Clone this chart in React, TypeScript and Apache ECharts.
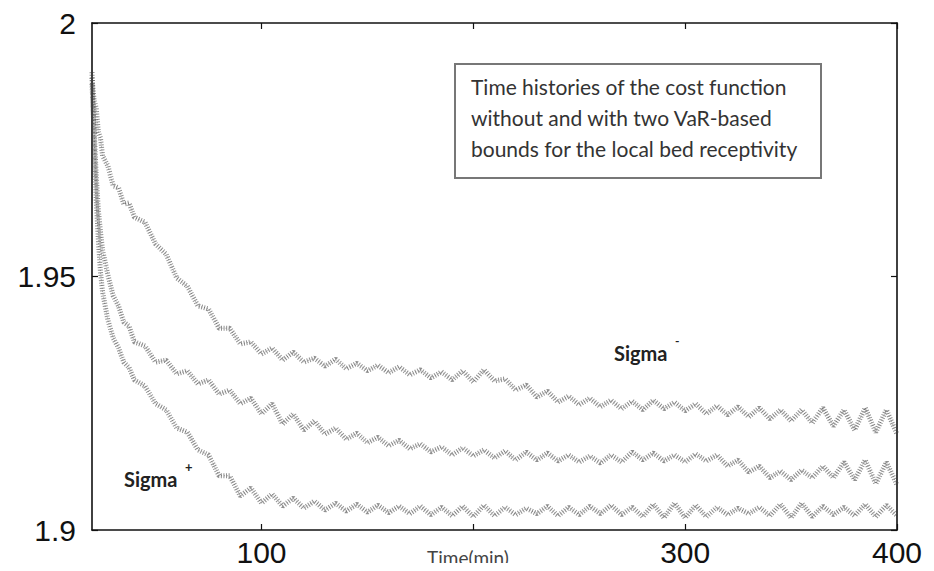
import React, { useEffect, useRef } from "react";
import * as echarts from "echarts";

// time (min)
const T = [20, 21, 22, 23, 24, 25, 27.5, 30, 32.5, 35, 37.5, 40, 45, 50, 55, 60, 65, 70, 75, 80, 85, 90, 95, 100, 105, 110, 115, 120, 125, 130, 135, 140, 145, 150, 155, 160, 165, 170, 175, 180, 185, 190, 195, 200, 205, 210, 215, 220, 225, 230, 235, 240, 245, 250, 255, 260, 265, 270, 275, 280, 285, 290, 295, 300, 305, 310, 315, 320, 325, 330, 335, 340, 345, 350, 355, 360, 365, 370, 375, 380, 385, 390, 395, 400];

// upper trace (Sigma-)
const sigmaMinus = [1.9892, 1.9848, 1.9832, 1.9785, 1.9773, 1.9738, 1.9718, 1.9679, 1.9675, 1.9643, 1.9645, 1.9617,
  1.9607, 1.9564, 1.9544, 1.9497, 1.9481, 1.9442, 1.9436, 1.9398, 1.9398, 1.9367, 1.9371, 1.9347, 1.9359, 1.9335,
  1.9351, 1.9331, 1.9339, 1.9323, 1.9337, 1.9318, 1.9329, 1.9314, 1.9325, 1.9310, 1.9322, 1.9306, 1.9316, 1.9300,
  1.9312, 1.9296, 1.9314, 1.9292, 1.9316, 1.9294, 1.9298, 1.9276, 1.9286, 1.9262, 1.9274, 1.9252, 1.9264, 1.9247,
  1.9260, 1.9243, 1.9256, 1.9239, 1.9254, 1.9237, 1.9256, 1.9239, 1.9252, 1.9235, 1.9249, 1.9229, 1.9245, 1.9227,
  1.9243, 1.9223, 1.9241, 1.9219, 1.9237, 1.9215, 1.9237, 1.9211, 1.9241, 1.9205, 1.9237, 1.9197, 1.9241, 1.9193,
  1.9237, 1.9189];

// middle trace (without bounds)
const nominal = [1.9880, 1.9789, 1.9700, 1.9631, 1.9588, 1.9552, 1.9503, 1.9462, 1.9442, 1.9410, 1.9402, 1.9371,
  1.9363, 1.9331, 1.9335, 1.9308, 1.9314, 1.9288, 1.9296, 1.9268, 1.9276, 1.9249, 1.9260, 1.9229, 1.9249, 1.9209,
  1.9229, 1.9197, 1.9215, 1.9189, 1.9201, 1.9179, 1.9191, 1.9172, 1.9183, 1.9166, 1.9177, 1.9160, 1.9170, 1.9154,
  1.9164, 1.9148, 1.9162, 1.9146, 1.9158, 1.9142, 1.9156, 1.9138, 1.9154, 1.9138, 1.9152, 1.9136, 1.9148, 1.9134,
  1.9146, 1.9132, 1.9148, 1.9134, 1.9154, 1.9138, 1.9152, 1.9136, 1.9148, 1.9134, 1.9150, 1.9136, 1.9148, 1.9126,
  1.9138, 1.9114, 1.9126, 1.9103, 1.9116, 1.9099, 1.9118, 1.9103, 1.9126, 1.9103, 1.9134, 1.9099, 1.9138, 1.9091,
  1.9134, 1.9089];

// lower trace (Sigma+)
const sigmaPlus = [1.9903, 1.9769, 1.9651, 1.9572, 1.9509, 1.9469, 1.9414, 1.9379, 1.9359, 1.9331, 1.9320, 1.9296,
  1.9284, 1.9249, 1.9237, 1.9201, 1.9193, 1.9158, 1.9148, 1.9107, 1.9107, 1.9067, 1.9083, 1.9053, 1.9071, 1.9047,
  1.9063, 1.9043, 1.9057, 1.9039, 1.9053, 1.9037, 1.9051, 1.9035, 1.9049, 1.9034, 1.9047, 1.9032, 1.9047, 1.9030,
  1.9045, 1.9028, 1.9047, 1.9026, 1.9049, 1.9028, 1.9045, 1.9030, 1.9043, 1.9032, 1.9047, 1.9028, 1.9045, 1.9030,
  1.9047, 1.9032, 1.9049, 1.9030, 1.9045, 1.9026, 1.9051, 1.9024, 1.9053, 1.9024, 1.9049, 1.9026, 1.9045, 1.9030,
  1.9043, 1.9032, 1.9045, 1.9028, 1.9051, 1.9024, 1.9053, 1.9026, 1.9047, 1.9030, 1.9045, 1.9028, 1.9051, 1.9026,
  1.9049, 1.9028];

const xTicks = [100, 200, 300, 400];
const xLabels = [100, 300, 400];
const xName = "Time(min)";
const boxLines = [
  "Time histories of the cost function",
  "without and with two VaR-based",
  "bounds for the local bed receptivity",
];

const tickFont = "'Liberation Sans', Arial, sans-serif";
const textFont = "Lato, 'Open Sans', sans-serif";

export default function App() {
  const ref = useRef<HTMLDivElement>(null);
  useEffect(() => {
    if (!ref.current) return;
    const chart = echarts.init(ref.current, undefined, { renderer: "svg" });
    const mk = (arr: number[]) => T.map((t, i) => [t, arr[i]]);
    const traces = [sigmaMinus, nominal, sigmaPlus];
    const series: any[] = [];
    traces.forEach((arr, k) => {
      series.push({
        type: "line",
        name: "hatch" + k,
        data: mk(arr),
        showSymbol: false,
        silent: true,
        lineStyle: { color: "rgba(70,70,70,0.6)", width: 5, type: [1, 1.6] },
        z: 2,
      });
      series.push({
        type: "line",
        name: "trace" + k,
        data: mk(arr),
        showSymbol: false,
        silent: true,
        lineStyle: { color: "rgba(50,50,50,0.5)", width: 0.8, type: [1, 2] },
        z: 3,
      });
    });
    const axisLine = { show: true, lineStyle: { color: "#111", width: 1.6 } };
    chart.setOption({
      animation: false,
      backgroundColor: "#fff",
      grid: { left: 92, right: 37, top: 23, bottom: 41, containLabel: false, outerBoundsMode: "none" },
      xAxis: [
        {
          type: "value",
          min: 20,
          max: 400,
          position: "bottom",
          axisLine,
          splitLine: { show: false },
          axisTick: { inside: true, length: 6, customValues: xTicks, lineStyle: { color: "#111", width: 1.2 } },
          axisLabel: {
            customValues: xLabels,
            fontFamily: tickFont,
            fontSize: 30,
            color: "#111",
            margin: 7,
          },
        },
        {
          type: "value",
          min: 20,
          max: 400,
          position: "top",
          axisLine,
          splitLine: { show: false },
          axisTick: { inside: true, length: 6, customValues: xTicks, lineStyle: { color: "#111", width: 1.2 } },
          axisLabel: { show: false },
        },
      ],
      yAxis: [
        {
          type: "value",
          min: 1.9,
          max: 2,
          interval: 0.05,
          position: "left",
          axisLine,
          splitLine: { show: false },
          axisTick: { inside: true, length: 6, lineStyle: { color: "#111", width: 1.2 } },
          axisLabel: {
            fontFamily: tickFont,
            fontSize: 30,
            color: "#111",
            margin: 16,
            formatter: (v: number) => String(+v.toFixed(2)),
          },
        },
        {
          type: "value",
          min: 1.9,
          max: 2,
          interval: 0.05,
          position: "right",
          axisLine,
          splitLine: { show: false },
          axisTick: { inside: true, length: 6, lineStyle: { color: "#111", width: 1.2 } },
          axisLabel: { show: false },
        },
      ],
      series,
      graphic: [
        {
          type: "text",
          x: 468,
          y: 548,
          style: {
            text: xName,
            font: `19px ${textFont}`,
            fill: "#444",
            align: "center",
            verticalAlign: "top",
          },
        },
        {
          type: "group",
          left: 454,
          top: 63,
          children: [
            {
              type: "rect",
              shape: { x: 0, y: 0, width: 366, height: 114 },
              style: { fill: "#fff", stroke: "#777", lineWidth: 2 },
            },
            ...boxLines.map((s, i) => ({
              type: "text",
              x: 16,
              y: 12 + i * 31,
              style: { text: s, font: `21px ${textFont}`, fill: "#333" },
            })),
          ],
        },
        {
          type: "text",
          left: 614,
          top: 343,
          style: { text: "Sigma", font: `bold 20px ${textFont}`, fill: "#222" },
        },
        {
          type: "text",
          left: 675,
          top: 334,
          style: { text: "-", font: `bold 12px ${textFont}`, fill: "#222" },
        },
        {
          type: "text",
          left: 124,
          top: 469,
          style: { text: "Sigma", font: `bold 20px ${textFont}`, fill: "#222" },
        },
        {
          type: "text",
          left: 185,
          top: 460,
          style: { text: "+", font: `bold 13px ${textFont}`, fill: "#222" },
        },
      ],
    });
    return () => chart.dispose();
  }, []);
  return <div ref={ref} style={{ width: 934, height: 571, margin: -8 }} />;
}
